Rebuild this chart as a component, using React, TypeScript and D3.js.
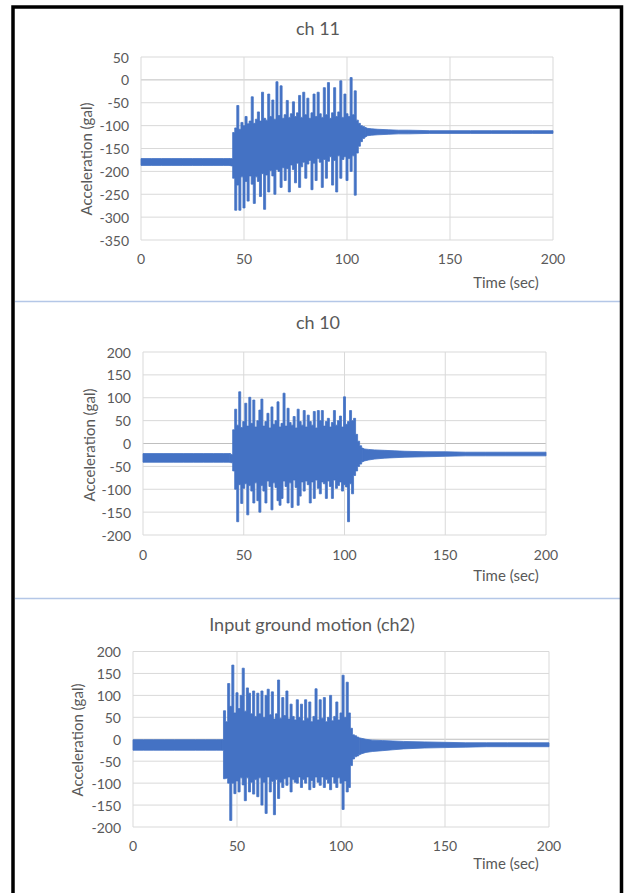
import React from 'react';
import * as d3 from 'd3';

// ---------- data (min/max envelope per time step) ----------
const timeSec = [
  0, 5, 10, 15, 20, 25, 30, 35, 40, 43,
  44, 45, 46, 47, 48, 49, 50, 51, 52, 53, 54, 55, 56, 57, 58, 59,
  60, 61, 62, 63, 64, 65, 66, 67, 68, 69, 70, 71, 72, 73, 74, 75, 76, 77, 78, 79,
  80, 81, 82, 83, 84, 85, 86, 87, 88, 89, 90, 91, 92, 93, 94, 95, 96, 97, 98, 99,
  100, 101, 102, 103, 104, 105, 106, 107, 108, 109, 110,
  112, 115, 120, 125, 130, 140, 150, 160, 170, 180, 190, 200,
];

const ch11Max = [
  -172, -172, -172, -172, -172, -172, -172, -172, -172, -172,
  -172, -115, -105, -56, -108, -93, -100, -80, -96, -90, -37, -95, -86, -70, -90, -27,
  -84, -88, -31, -80, -44, -86, -4, -78, -13, -84, -76, -45, -82, -74, -48, -80, -72, -34, -82, -27,
  -76, -40, -84, -72, -31, -80, -27, -74, -82, -17, -76, -6, -84, -72, -17, -80, -70, -2, -82, -31,
  -74, -80, 5, -76, -24, -88, -95, -100, -102, -104, -106,
  -107, -108, -109, -110, -110, -111, -111, -111, -111, -111, -111, -111,
];
const ch11Min = [
  -187, -187, -187, -187, -187, -187, -187, -187, -187, -187,
  -188, -215, -285, -230, -285, -212, -280, -222, -265, -210, -228, -270, -212, -222, -255, -205,
  -283, -208, -245, -198, -210, -250, -196, -200, -235, -192, -220, -194, -245, -186, -196, -225, -182, -235, -190, -180,
  -215, -184, -176, -240, -182, -220, -172, -180, -235, -174, -215, -178, -168, -230, -176, -245, -166, -215, -174, -168,
  -220, -172, -200, -166, -252, -160, -145, -135, -128, -125, -122,
  -121, -120, -119, -118, -118, -117, -117, -117, -117, -117, -117, -117,
];

const ch10Max = [
  -22, -22, -22, -22, -22, -22, -22, -22, -22, -22,
  -24, 30, 75, 40, 113, 35, 48, 88, 38, 101, 44, 95, 36, 50, 73, 97,
  38, 48, 66, 34, 80, 42, 50, 91, 36, 44, 110, 38, 77, 46, 40, 59, 34, 75, 48, 40,
  72, 36, 62, 48, 40, 70, 34, 72, 50, 72, 38, 48, 55, 36, 46, 72, 40, 50, 60, 36,
  102, 42, 48, 72, 50, 55, 20, 5, -5, -10, -12,
  -13, -14, -15, -16, -17, -18, -18, -19, -19, -19, -19, -19,
];
const ch10Min = [
  -41, -41, -41, -41, -41, -41, -41, -41, -41, -41,
  -42, -60, -100, -171, -90, -131, -98, -88, -156, -92, -104, -130, -86, -125, -150, -92,
  -104, -130, -82, -94, -145, -86, -96, -125, -135, -120, -82, -94, -130, -86, -140, -80, -96, -135, -115, -84,
  -104, -82, -90, -130, -84, -120, -80, -98, -110, -84, -88, -120, -82, -94, -120, -80, -98, -92, -84, -104,
  -90, -95, -171, -88, -110, -70, -60, -50, -45, -40, -38,
  -36, -34, -32, -31, -30, -29, -28, -27, -27, -27, -27, -27,
];

const ch2Max = [
  -1, -1, -1, -1, -1, -1, -1, -1, -1, -1,
  65, 40, 127, 75, 169, 60, 106, 70, 100, 162, 64, 117, 105, 58, 110, 52,
  105, 58, 110, 50, 100, 114, 56, 108, 46, 58, 135, 48, 95, 54, 110, 46, 80, 52, 44, 90,
  50, 80, 42, 90, 48, 85, 40, 52, 115, 44, 90, 48, 95, 40, 50, 100, 42, 52, 85, 44,
  60, 146, 50, 130, 60, 25, 10, 8, 5, 3, 2,
  0, -2, -3, -4, -5, -6, -7, -8, -8, -8, -8, -8,
];
const ch2Min = [
  -25, -25, -25, -25, -25, -25, -25, -25, -25, -25,
  -90, -89, -100, -185, -100, -124, -95, -120, -88, -104, -140, -88, -120, -98, -125, -92,
  -131, -88, -150, -98, -169, -86, -120, -96, -172, -92, -135, -98, -110, -90, -105, -86, -120, -92, -98, -100,
  -86, -110, -92, -100, -86, -115, -94, -110, -86, -98, -105, -86, -110, -92, -100, -115, -86, -100, -110, -88,
  -100, -160, -95, -120, -110, -60, -45, -40, -38, -35, -33,
  -30, -28, -26, -24, -22, -20, -19, -18, -17, -17, -17, -17,
];

const xTicks = [0, 50, 100, 150, 200];
const yTicksCh11 = [50, 0, -50, -100, -150, -200, -250, -300, -350];
const yTicksPm200 = [200, 150, 100, 50, 0, -50, -100, -150, -200];
const chartTitles = ['ch 11', 'ch 10', 'Input ground motion (ch2)'];
const xAxisTitle = 'Time (sec)';
const yAxisTitle = 'Acceleration (gal)';

// ---------- styling / layout ----------
const FONT = 'Lato, "Open Sans", sans-serif';
const TEXT = '#595959';
const GRID = '#d9d9d9';
const LINE = '#4472c4';

// index ranges: quiet (linear envelope) and strong-motion (1 s min/max columns)
const PRE_END = 9;
const STRONG_END = 75;

type PanelSpec = {
  title: string;
  titleX: number;
  titleY: number;
  left: number;
  right: number;
  top: number;
  bottom: number;
  yTicks: number[];
  hi: number[];
  lo: number[];
  yLabelX: number;
  yLabelY: number;
  xLabelY: number;
  xTitleY: number;
};

const panels: PanelSpec[] = [
  {
    title: chartTitles[0], titleX: 318, titleY: 28,
    left: 141, right: 553, top: 57, bottom: 240,
    yTicks: yTicksCh11, hi: ch11Max, lo: ch11Min,
    yLabelX: 86, yLabelY: 159, xLabelY: 258, xTitleY: 282,
  },
  {
    title: chartTitles[1], titleX: 318, titleY: 322,
    left: 143, right: 546, top: 352, bottom: 535,
    yTicks: yTicksPm200, hi: ch10Max, lo: ch10Min,
    yLabelX: 89, yLabelY: 445, xLabelY: 554, xTitleY: 575,
  },
  {
    title: chartTitles[2], titleX: 312, titleY: 624,
    left: 133, right: 549, top: 651.5, bottom: 827,
    yTicks: yTicksPm200, hi: ch2Max, lo: ch2Min,
    yLabelX: 77, yLabelY: 740, xLabelY: 845, xTitleY: 863,
  },
];

function Panel({ p }: { p: PanelSpec }) {
  const x = d3.scaleLinear().domain([0, 200]).range([p.left, p.right]);
  const yExt = d3.extent(p.yTicks) as [number, number];
  const y = d3.scaleLinear().domain(yExt).range([p.bottom, p.top]);
  const idx = timeSec.map((_, i) => i);
  const mk = (curve: d3.CurveFactory) =>
    d3
      .area<number>()
      .x((i) => x(timeSec[i]))
      .y0((i) => y(p.lo[i]))
      .y1((i) => y(p.hi[i]))
      .curve(curve);
  const prePath = mk(d3.curveLinear)(idx.slice(0, PRE_END + 1)) || '';
  const strongPath = mk(d3.curveStep)(idx.slice(PRE_END, STRONG_END + 1)) || '';
  const postPath = mk(d3.curveLinear)(idx.slice(STRONG_END)) || '';
  return (
    <g>
      <text x={p.titleX} y={p.titleY} textAnchor="middle" dominantBaseline="central"
        fontFamily={FONT} fontSize={18} fill={TEXT}>{p.title}</text>
      {p.yTicks.map((t) => (
        <line key={'h' + t} x1={p.left} x2={p.right} y1={y(t)} y2={y(t)}
          stroke={t === 0 ? '#bfbfbf' : GRID} strokeWidth={1} />
      ))}
      {xTicks.map((t) => (
        <line key={'v' + t} x1={x(t)} x2={x(t)} y1={p.top} y2={p.bottom}
          stroke={GRID} strokeWidth={1} />
      ))}
      {[prePath, strongPath, postPath].map((d, k) => (
        <path key={k} d={d} fill={LINE} stroke={LINE} strokeWidth={0.8} strokeLinejoin="round" />
      ))}
      {p.yTicks.map((t) => (
        <text key={'yl' + t} x={p.left - 12} y={y(t)} textAnchor="end" dominantBaseline="central"
          fontFamily={FONT} fontSize={14} fill={TEXT}>{t}</text>
      ))}
      {xTicks.map((t) => (
        <text key={'xl' + t} x={x(t)} y={p.xLabelY} textAnchor="middle" dominantBaseline="central"
          fontFamily={FONT} fontSize={14} fill={TEXT}>{t}</text>
      ))}
      <text x={506} y={p.xTitleY} textAnchor="middle" dominantBaseline="central"
        fontFamily={FONT} fontSize={15} fill={TEXT}>{xAxisTitle}</text>
      <text transform={`translate(${p.yLabelX},${p.yLabelY}) rotate(-90)`} textAnchor="middle"
        dominantBaseline="central" fontFamily={FONT} fontSize={15} fill={TEXT}>{yAxisTitle}</text>
    </g>
  );
}

export default function App() {
  return (
    <svg width={625} height={893} viewBox="0 0 625 893"
      style={{ position: 'absolute', left: 0, top: 0, background: '#fff' }}>
      <rect x={0} y={0} width={625} height={893} fill="#fff" />
      <line x1={15} x2={620} y1={301.5} y2={301.5} stroke="#b4c7e7" strokeWidth={1.5} />
      <line x1={15} x2={620} y1={598.5} y2={598.5} stroke="#b4c7e7" strokeWidth={1.5} />
      {panels.map((p, i) => <Panel key={i} p={p} />)}
      <path d="M13,893 V7 H621.5 V893" fill="none" stroke="#000" strokeWidth={3.5} />
    </svg>
  );
}
